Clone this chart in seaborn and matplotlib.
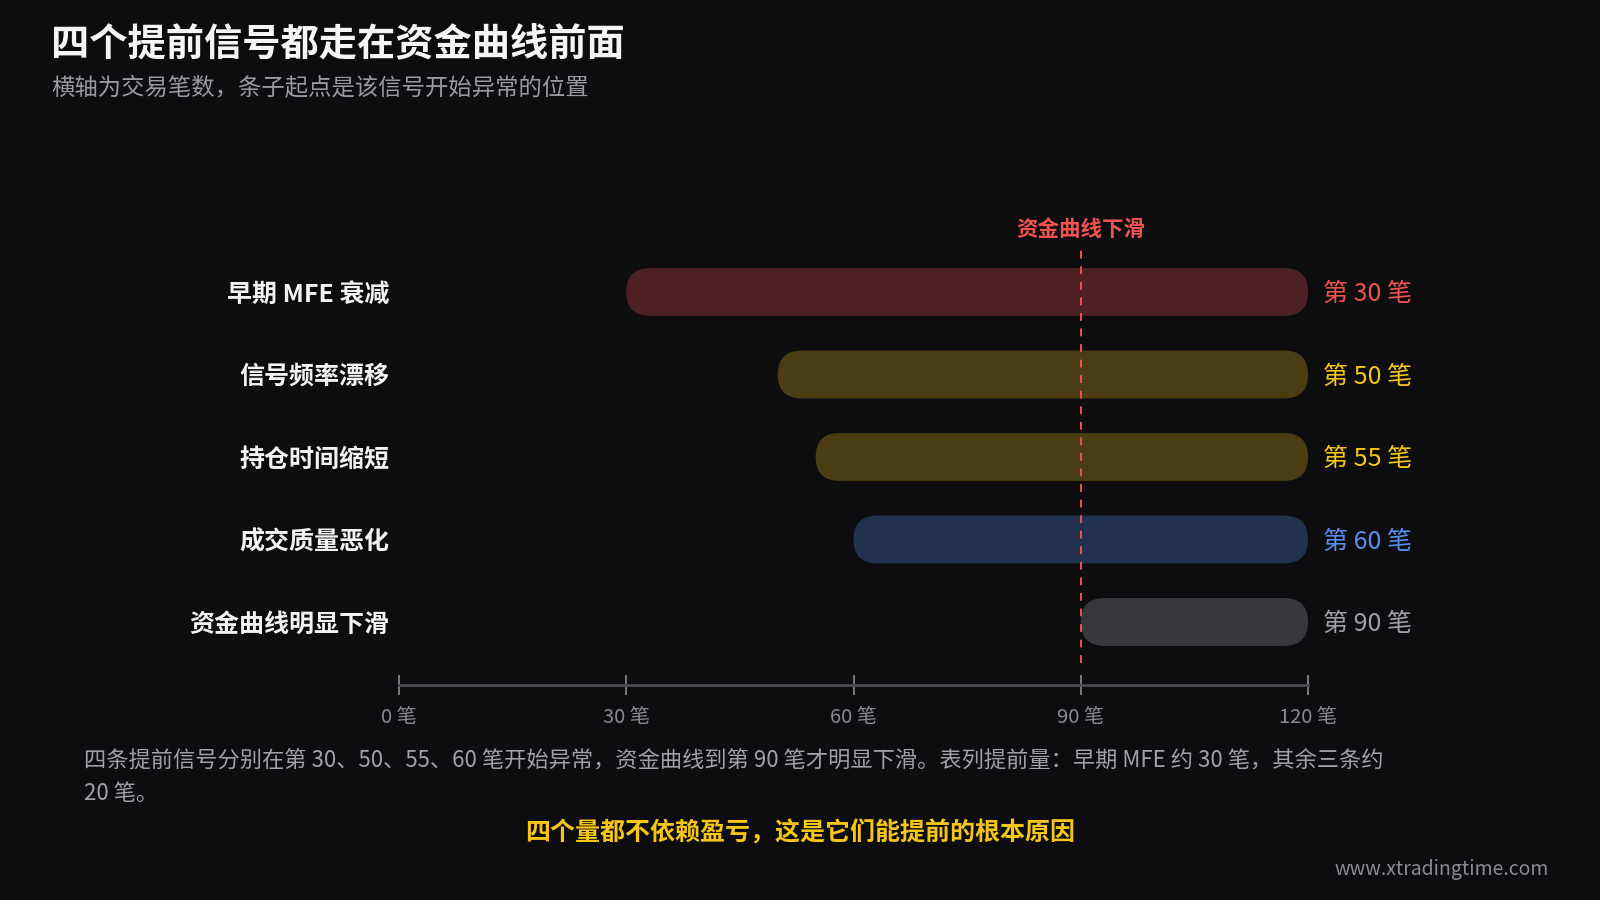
import matplotlib
matplotlib.use("Agg")
import matplotlib.pyplot as plt
from matplotlib.patches import FancyBboxPatch
import seaborn as sns

signals = ["早期 MFE 衰减", "信号频率漂移", "持仓时间缩短", "成交质量恶化", "资金曲线明显下滑"]
start_trade = [30, 50, 55, 60, 90]
end_trade = [120, 120, 120, 120, 120]
bar_colors = ["#4e1f24", "#4a3d13", "#223150", "#37373c"]
text_colors = ["#ef5350", "#f5c518", "#5b8def", "#a0a0a6"]
signal_kind = [0, 1, 1, 2, 3]
ticks = [0, 30, 60, 90, 120]
tick_labels = [f"{t} 笔" for t in ticks]
drop_at = 90

bg = "#0d0d10"
sns.set_theme(style="dark")
plt.rcParams["font.family"] = ["Noto Sans CJK SC", "DejaVu Sans"]

fig = plt.figure(figsize=(16, 9), dpi=100, facecolor=bg)
ax = fig.add_axes([399 / 1600, 215 / 900, 909 / 1600, 435 / 900])
ax.set_facecolor(bg)

widths = [e - s for s, e in zip(start_trade, end_trade)]
sns.barplot(x=widths, y=signals, orient="h", width=0.58, ax=ax,
            color="#000000", saturation=1)
ax.set_xlim(0, 120)
ax.set_ylim(4.764, -0.509)

# swap the flat bars for rounded pills of the same geometry
bbox = ax.get_window_extent()
px_x = bbox.width / 120
px_y = bbox.height / (4.764 + 0.509)
bars = list(ax.patches)
for i, bar in enumerate(bars):
    y, h, w = bar.get_y(), bar.get_height(), bar.get_width()
    bar.remove()
    r = (h / 2) * px_y / px_x
    pill = FancyBboxPatch((start_trade[i], y), w, h,
                          boxstyle=f"round,pad=0,rounding_size={r}",
                          mutation_aspect=(h / 2) / r,
                          facecolor=bar_colors[signal_kind[i]], edgecolor="none", zorder=2)
    ax.add_patch(pill)
    ax.text(end_trade[i] + 15 / px_x, y + h / 2 + 2 / px_y, f"第 {start_trade[i]} 笔",
            color=text_colors[signal_kind[i]], fontsize=18, fontweight="medium",
            va="center", ha="left", clip_on=False)

ax.axvline(drop_at, ymin=22 / 435, ymax=1, color="#ef5350", linestyle=(0, (4, 4)),
           linewidth=1.4, zorder=3)
ax.text(drop_at, -0.509 - 21 / px_y, "资金曲线下滑", color="#ef5350", fontsize=15.5,
        fontweight="bold", ha="center", va="center", clip_on=False)

ax.set_xticks(ticks)
ax.set_xticklabels(tick_labels, color="#8a8a90", fontsize=14.5)
ax.tick_params(axis="x", bottom=True, direction="inout", length=14, width=1.2,
               color="#8a8a90", pad=9)
ax.tick_params(axis="y", left=False, length=0, pad=7)
for lbl in ax.get_yticklabels():
    lbl.set_color("#f2f2f2")
    lbl.set_fontsize(18)
    lbl.set_fontweight("bold")
ax.set_xlabel("")
ax.set_ylabel("")
ax.grid(False)
for side in ["top", "right", "left"]:
    ax.spines[side].set_visible(False)
ax.spines["bottom"].set_color("#4a4a50")
ax.spines["bottom"].set_linewidth(2)

fig.text(51 / 1600, 1 - 45 / 900, "四个提前信号都走在资金曲线前面", color="#f5f5f5",
         fontsize=27.5, fontweight="bold", va="center", ha="left")
fig.text(51 / 1600, 1 - 89 / 900, "横轴为交易笔数，条子起点是该信号开始异常的位置",
         color="#9a9aa0", fontsize=16.8, va="center", ha="left")

fig.text(84 / 1600, 1 - 749 / 900,
         "四条提前信号分别在第 30、50、55、60 笔开始异常，资金曲线到第 90 笔才明显下滑。表列提前量：早期 MFE 约 30 笔，其余三条约\n20 笔。",
         color="#a0a0a6", fontsize=16, va="top", ha="left", linespacing=1.58)
fig.text(800 / 1600, 1 - 833 / 900, "四个量都不依赖盈亏，这是它们能提前的根本原因",
         color="#f5c518", fontsize=18, fontweight="bold", va="center", ha="center")
fig.text(1549 / 1600, 1 - 869 / 900, "www.xtradingtime.com", color="#8a8a90",
         fontsize=14, va="center", ha="right")

fig.savefig("out.png", dpi=100, facecolor=bg)
plt.close(fig)
